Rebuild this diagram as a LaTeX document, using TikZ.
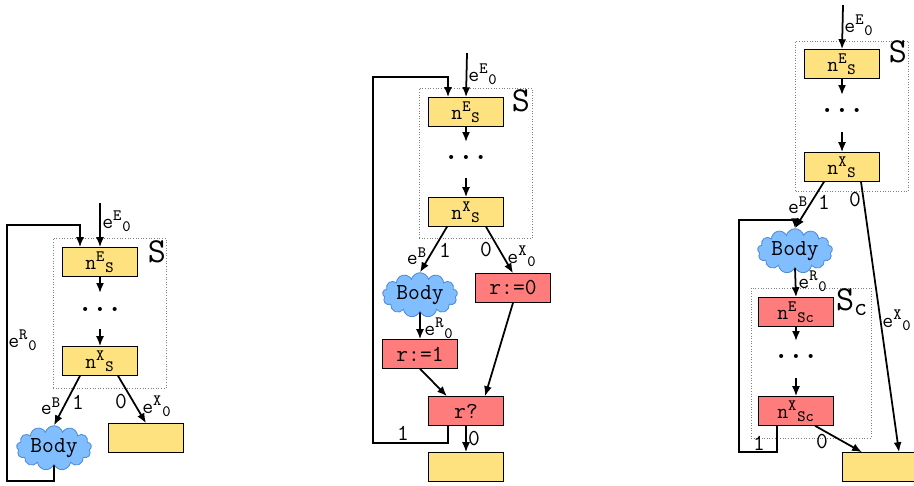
\documentclass[tikz,border=0pt]{standalone}
\usetikzlibrary{arrows.meta,shapes.symbols}

\definecolor{stmtyellow}{RGB}{255,226,128}
\definecolor{stmtred}{RGB}{255,124,124}
\definecolor{bodyblue}{RGB}{128,190,255}
\definecolor{bodyedge}{RGB}{80,140,215}

\begin{document}
\begin{tikzpicture}[
  x=0.2mm, y=-0.2mm,
  font=\ttfamily\fontsize{13}{15}\selectfont,
  stmt/.style={draw, line width=0.6pt, minimum width=1.5cm, minimum height=0.57cm, inner sep=0pt},
  yellowstmt/.style={stmt, fill=stmtyellow},
  redstmt/.style={stmt, fill=stmtred},
  body/.style={cloud, cloud puffs=13, aspect=2, draw=bodyedge, fill=bodyblue, line width=0.5pt,
               minimum width=1.5cm, minimum height=0.8cm, inner sep=0pt},
  region/.style={draw=gray, densely dotted, line width=0.5pt, minimum width=2.26cm, minimum height=3.0cm},
  dots/.style={font=\bfseries\fontsize{16}{18}\selectfont, inner sep=0pt},
  bigS/.style={font=\ttfamily\fontsize{20}{22}\selectfont, inner sep=0pt},
  lbl/.style={inner sep=1pt},
  arrow/.style={-{Latex[length=2mm,width=1.6mm]}, line width=1pt},
]
\useasboundingbox (0,0) rectangle (914,485);

% ===== Left: plain loop =====
\node[region] (s1) at (109.5,313.5) {};
\node[bigS] (s1lab) at (157,252) {S};
\node[yellowstmt] (es1) at (100,262) {$\mathtt{n}^{\mathtt{E}}{}_{\mathtt{S}}$};
\node[dots] (dots1) at (100,309) {.\kern0.12cm.\kern0.12cm.};
\node[yellowstmt] (xs1) at (100,361) {$\mathtt{n}^{\mathtt{X}}{}_{\mathtt{S}}$};
\node[body] (body1) at (54,448) {Body};
\node[yellowstmt] (out1) at (146,438) {};

\coordinate (in1) at (100,203);
\draw[arrow] (in1) -- (es1.north);
\node[lbl] (ee1) at (117,221) {$\mathtt{e}^{\mathtt{E}}{}_{\mathtt{0}}$};
\draw[arrow] (es1.south) -- ([yshift=0.32cm]dots1.center);
\draw[arrow] ([yshift=-0.4cm]dots1.center) -- (xs1.north);
\draw[arrow] ([xshift=-0.4cm]xs1.south) -- (body1.north);
\draw[arrow] ([xshift=0.36cm]xs1.south) -- (out1.north);
\node[lbl] (eb1) at (51,406) {$\mathtt{e}^{\mathtt{B}}$};
\node[lbl] (one1) at (78,402) {1};
\node[lbl] (zero1) at (121,402) {0};
\node[lbl] (ex1) at (157,406) {$\mathtt{e}^{\mathtt{X}}{}_{\mathtt{0}}$};
\draw[arrow] (body1.south) -- (54,481) -- (7,481) -- (7,225) -| ([xshift=-0.4cm]es1.north);
\node[lbl] (er1) at (23,340) {$\mathtt{e}^{\mathtt{R}}{}_{\mathtt{0}}$};

% ===== Middle: loop with flag r =====
\node[region] (s2) at (475.5,163.5) {};
\node[bigS] (s2lab) at (521,101) {S};
\node[yellowstmt] (es2) at (466,112) {$\mathtt{n}^{\mathtt{E}}{}_{\mathtt{S}}$};
\node[dots] (dots2) at (466,157) {.\kern0.12cm.\kern0.12cm.};
\node[yellowstmt] (xs2) at (466,212) {$\mathtt{n}^{\mathtt{X}}{}_{\mathtt{S}}$};
\node[body] (body2) at (420,295) {Body};
\node[redstmt] (set0) at (513,288) {r:=0};
\node[redstmt] (set1) at (420,354) {r:=1};
\node[redstmt] (test) at (466,411) {r?};
\node[yellowstmt] (out2) at (466,467) {};

\coordinate (in2) at (467,53);
\draw[arrow] (in2) -- (es2.north);
\node[lbl] (ee2) at (483,74) {$\mathtt{e}^{\mathtt{E}}{}_{\mathtt{0}}$};
\draw[arrow] (es2.south) -- ([yshift=0.3cm]dots2.center);
\draw[arrow] ([yshift=-0.42cm]dots2.center) -- (xs2.north);
\draw[arrow] ([xshift=-0.38cm]xs2.south) -- (body2.north);
\draw[arrow] ([xshift=0.4cm]xs2.south) -- (set0.north);
\node[lbl] (eb2) at (417,256) {$\mathtt{e}^{\mathtt{B}}$};
\node[lbl] (one2) at (445,250) {1};
\node[lbl] (zero2) at (486,250) {0};
\node[lbl] (ex2) at (522,256) {$\mathtt{e}^{\mathtt{X}}{}_{\mathtt{0}}$};
\draw[arrow] (body2.south) -- (set1.north);
\node[lbl] (er2) at (439,328) {$\mathtt{e}^{\mathtt{R}}{}_{\mathtt{0}}$};
\draw[arrow] (set1.south) -- ([xshift=-0.38cm]test.north);
\draw[arrow] (set0.south) -- ([xshift=0.38cm]test.north);
\draw[arrow] (test.south) -- (out2.north);
\node[lbl] (zero2b) at (474,439) {0};
\draw[arrow] ([xshift=-0.36cm]test.south) -- (448,443) -- (373,443) -- (373,77) -| ([xshift=-0.36cm]es2.north);
\node[lbl] (one2b) at (403,433) {1};

% ===== Right: loop with cloned region =====
\node[region] (s3) at (852,116) {};
\node[bigS] (s3lab) at (898,52) {S};
\node[yellowstmt] (es3) at (842,64) {$\mathtt{n}^{\mathtt{E}}{}_{\mathtt{S}}$};
\node[dots] (dots3) at (842,110) {.\kern0.12cm.\kern0.12cm.};
\node[yellowstmt] (xs3) at (842,167) {$\mathtt{n}^{\mathtt{X}}{}_{\mathtt{S}}$};
\node[body] (body3) at (795,251) {Body};
\node[region, minimum width=2.4cm] (sc) at (811,363) {};
\node[bigS] (sclab) at (852,302) {S$_{\mathtt{c}}$};
\node[redstmt] (esc) at (796,312) {$\mathtt{n}^{\mathtt{E}}{}_{\mathtt{Sc}}$};
\node[dots] (dotsc) at (796,356) {.\kern0.12cm.\kern0.12cm.};
\node[redstmt] (xsc) at (796,411) {$\mathtt{n}^{\mathtt{X}}{}_{\mathtt{Sc}}$};
\node[yellowstmt] (out3) at (880,467) {};

\coordinate (in3) at (843,5);
\draw[arrow] (in3) -- (es3.north);
\node[lbl] (ee3) at (859,25) {$\mathtt{e}^{\mathtt{E}}{}_{\mathtt{0}}$};
\draw[arrow] (es3.south) -- ([yshift=0.3cm]dots3.center);
\draw[arrow] ([yshift=-0.44cm]dots3.center) -- (xs3.north);
\draw[arrow] ([xshift=-0.36cm]xs3.south) -- (body3.north);
\draw[arrow] ([xshift=0.38cm]xs3.south) -- ([xshift=0.38cm]out3.north);
\node[lbl] (eb3) at (798,205) {$\mathtt{e}^{\mathtt{B}}$};
\node[lbl] (one3) at (824,202) {1};
\node[lbl] (zero3) at (855,200) {0};
\node[lbl] (ex3) at (897,320) {$\mathtt{e}^{\mathtt{X}}{}_{\mathtt{0}}$};
\draw[arrow] (body3.south) -- (esc.north);
\node[lbl] (er3) at (813,281) {$\mathtt{e}^{\mathtt{R}}{}_{\mathtt{0}}$};
\draw[arrow] (esc.south) -- ([yshift=0.3cm]dotsc.center);
\draw[arrow] ([yshift=-0.44cm]dotsc.center) -- (xsc.north);
\draw[arrow] ([xshift=0.38cm]xsc.south) -- ([xshift=-0.36cm]out3.north);
\node[lbl] (zero3b) at (822,442) {0};
\draw[arrow] ([xshift=-0.38cm]xsc.south) -- (777,452) -- (739,452) -- (739,220) -| (body3.north);
\node[lbl] (one3b) at (759,443) {1};

\end{tikzpicture}
\end{document}
